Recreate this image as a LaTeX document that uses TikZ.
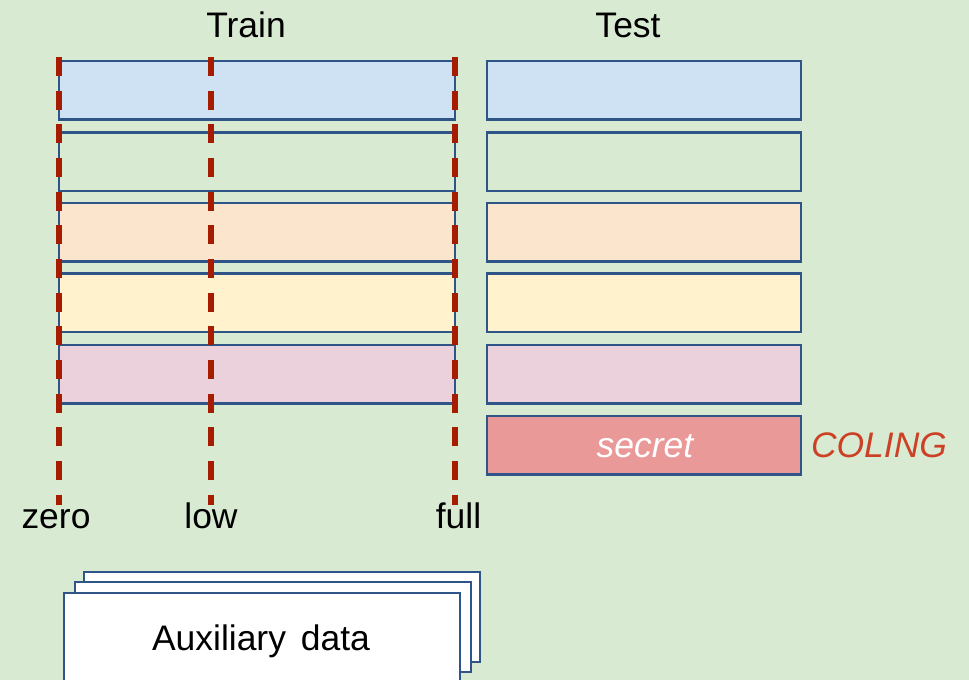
\documentclass[tikz,border=0pt]{standalone}
\usepackage{fontspec}
\setmainfont{Liberation Sans}
\definecolor{bgc}{HTML}{D9EAD3}
\definecolor{edgec}{HTML}{2F5588}
\definecolor{rowblue}{HTML}{CFE2F3}
\definecolor{rowpeach}{HTML}{FCE5CD}
\definecolor{rowyellow}{HTML}{FFF2CC}
\definecolor{rowpink}{HTML}{EAD1DC}
\definecolor{rowsecret}{HTML}{EA9999}
\definecolor{cutred}{HTML}{A61C00}
\definecolor{venuered}{HTML}{CC4125}
\tikzset{
  bigtext/.style={font=\fontsize{26.6}{32}\selectfont},
  databox/.style={draw=edgec, line width=1.6pt, inner sep=0pt, outer sep=0pt,
    anchor=north west, minimum height=43.9pt},
  trainrow/.style={databox, minimum width=297pt},
  testrow/.style={databox, minimum width=235.5pt},
  auxbox/.style={draw=edgec, line width=1.4pt, fill=white, inner sep=0pt,
    outer sep=0pt, anchor=north west, minimum width=297pt, minimum height=67.5pt},
  cutline/.style={draw=cutred, line width=3.8pt, dash pattern=on 14.25pt off 11pt},
  label/.style={bigtext, anchor=base}
}
\begin{document}
\begin{tikzpicture}[x=0.75pt,y=-0.75pt]
  % canvas
  \fill[bgc] (0,0) rectangle (969,680);
  \useasboundingbox (0,0) rectangle (969,680);
  \clip (0,0) rectangle (969,680);

  % column headings
  \node[label] (train) at (246,37.7) {Train};
  \node[label] (test) at (628,37.7) {Test};

  % training split rows
  \node[trainrow, fill=rowblue]   (tr1) at (59,61) {};
  \node[trainrow]                 (tr2) at (59,132.5) {};
  \node[trainrow, fill=rowpeach]  (tr3) at (59,203) {};
  \node[trainrow, fill=rowyellow] (tr4) at (59,273.5) {};
  \node[trainrow, fill=rowpink]   (tr5) at (59,345) {};

  % test split rows
  \node[testrow, fill=rowblue]   (te1) at (487,61) {};
  \node[testrow]                 (te2) at (487,132.5) {};
  \node[testrow, fill=rowpeach]  (te3) at (487,203) {};
  \node[testrow, fill=rowyellow] (te4) at (487,273.5) {};
  \node[testrow, fill=rowpink]   (te5) at (487,345) {};
  \node[testrow, fill=rowsecret] (te6) at (487,416) {};
  \node[label, text=white, font=\fontsize{26.6}{32}\selectfont\itshape]
    (secret) at (645,457.7) {secret};
  \node[label, text=venuered, font=\fontsize{26.6}{32}\selectfont\itshape]
    (coling) at (879,457.7) {COLING};

  % data-amount cut lines
  \coordinate (zeroTop) at (59,57);   \coordinate (zeroBot) at (59,505);
  \coordinate (lowTop)  at (211,57);  \coordinate (lowBot)  at (211,505);
  \coordinate (fullTop) at (455,57);  \coordinate (fullBot) at (455,505);
  \draw[cutline] (zeroTop) -- (zeroBot);
  \draw[cutline] (lowTop) -- (lowBot);
  \draw[cutline] (fullTop) -- (fullBot);
  \node[label] (zero) at (56,528) {zero};
  \node[label] (low)  at (211,528) {low};
  \node[label] (full) at (458.5,528) {full};

  % stacked auxiliary data sheets
  \node[auxbox] (aux3) at (84,572) {};
  \node[auxbox] (aux2) at (75,582) {};
  \node[auxbox, minimum height=90pt] (aux1) at (64,593) {};
  \node[label] (auxtext) at (261,650) {Auxiliary\hspace{0.42em}data};
\end{tikzpicture}
\end{document}
